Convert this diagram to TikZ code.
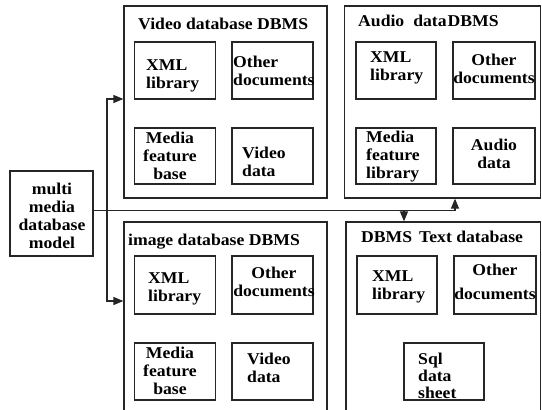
\documentclass[tikz,border=0pt]{standalone}
\usepackage{fontspec}
\setmainfont{Liberation Serif}[FakeStretch=1.07]
\usetikzlibrary{arrows.meta}
\begin{document}
\begin{tikzpicture}[x=1pt,y=-1pt,
 box/.style={draw=black!85, line width=1.2pt, inner sep=0pt},
 ibox/.style={box, minimum width=81pt, minimum height=57pt},
 lbl/.style={inner sep=0pt, font=\bfseries\fontsize{16.5}{18}\selectfont, align=left},
 ttl/.style={inner sep=0pt, anchor=west, font=\bfseries\fontsize{16.5}{18}\selectfont},
 conn/.style={line width=1.2pt, draw=black!85},
 arr/.style={conn, -{Triangle[length=10pt,width=8pt]}}]
\useasboundingbox (0,0) rectangle (542,410);
% outer boxes
\node[box, minimum width=203pt, minimum height=192pt] (video) at (225.5,102) {};
\node[box, minimum width=196pt, minimum height=192pt] (audio) at (442.5,102) {};
\node[box, minimum width=203pt, minimum height=210pt] (image) at (225.5,327) {};
\node[box, minimum width=194.5pt, minimum height=210pt] (text) at (443.25,327) {};
% titles
\node[ttl] (vtitle) at (138,24) {Video database DBMS};
\node[ttl] (atitle) at (358,21) {Audio\hspace{9pt}data\hspace{1pt}DBMS};
\node[ttl] (ititle) at (128,242) {image database DBMS};
\node[ttl] (ttitle) at (361,237) {DBMS\hspace{7pt}Text database};
% video inner
\node[ibox] (v1) at (175,70.5) {};
\node[ibox] (v2) at (272.5,70.5) {};
\node[ibox, minimum height=56pt] (v3) at (175,156) {};
\node[ibox, minimum height=56pt] (v4) at (272.5,156) {};
\node[lbl, anchor=west] (v1t) at (146,76) {XML\\library};
\node[lbl, anchor=west] (v2t) at (233,71) {Other\\documents};
\node[lbl, align=center] (v3t) at (170,156) {Media\\feature\\base};
\node[lbl, anchor=west] (v4t) at (242,162) {Video\\data};
% audio inner
\node[ibox, minimum width=80pt] (a1) at (396,70.5) {};
\node[ibox, minimum width=82pt] (a2) at (494,70.5) {};
\node[ibox, minimum width=80pt, minimum height=56pt] (a3) at (396,156) {};
\node[ibox, minimum width=82pt, minimum height=56pt] (a4) at (494,156) {};
\node[lbl, anchor=west] (a1t) at (370,68) {XML\\library};
\node[lbl, align=center] (a2t) at (494,69) {Other\\documents};
\node[lbl, anchor=west] (a3t) at (366,157) {Media\\feature\\library};
\node[lbl, align=center] (a4t) at (494,154) {Audio\\data};
% image inner
\node[ibox, minimum height=58pt] (i1) at (175,285) {};
\node[ibox, minimum height=58pt] (i2) at (272.5,285) {};
\node[ibox] (i3) at (175,371.5) {};
\node[ibox] (i4) at (272.5,371.5) {};
\node[lbl, anchor=west] (i1t) at (148,289) {XML\\library};
\node[lbl, align=center] (i2t) at (274,282) {Other\\documents};
\node[lbl, align=center] (i3t) at (170,371) {Media\\feature\\base};
\node[lbl, anchor=west] (i4t) at (247,368) {Video\\data};
% text inner
\node[ibox, minimum width=80pt, minimum height=58pt] (t1) at (397,285) {};
\node[ibox, minimum width=82pt, minimum height=58pt] (t2) at (495,285) {};
\node[ibox, minimum width=80pt] (t3) at (444,371.5) {};
\node[lbl, anchor=west] (t1t) at (372,287) {XML\\library};
\node[lbl, align=center] (t2t) at (495,282) {Other\\[6pt]documents};
\node[lbl, anchor=west, font=\bfseries\fontsize{16.5}{17}\selectfont] (t3t) at (418,376) {Sql\\data\\sheet};
% model
\node[box, minimum width=83pt, minimum height=85pt] (multi) at (51.5,213.5) {};
\node[lbl, align=center] (mt) at (52,216) {multi\\media\\database\\model};
% connectors
\coordinate (j1) at (107,210.5);
\coordinate (j2) at (404,210.5);
\coordinate (ja) at (455,210.5);
\coordinate (vy) at (107,99);
\coordinate (iy) at (107,301);
\draw[arr] (multi.east |- j1) -- (ja) -- (ja |- audio.south);
\draw[arr] (j2) -- (j2 |- text.north);
\draw[arr] (j1) -- (vy) -- (vy -| video.west);
\draw[arr] (j1) -- (iy) -- (iy -| image.west);
\end{tikzpicture}
\end{document}
